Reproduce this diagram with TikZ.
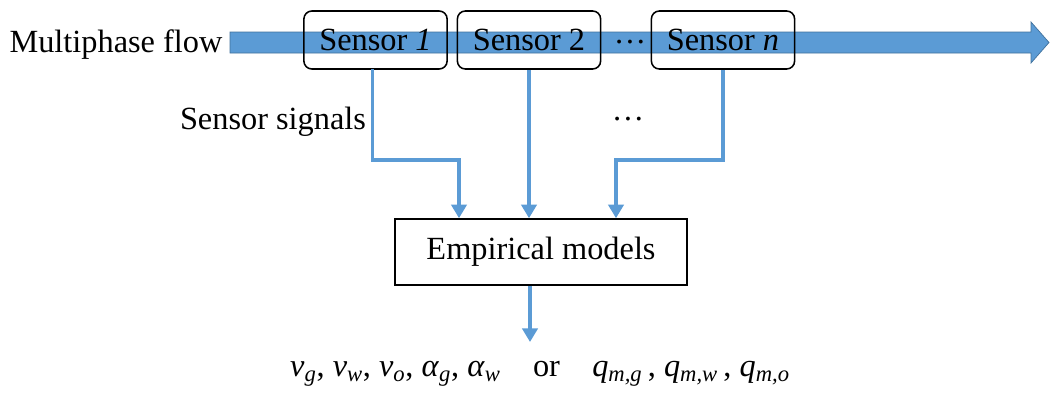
\documentclass[tikz,border=0pt]{standalone}
\usepackage{fontspec}
\setmainfont{Liberation Serif}
\usetikzlibrary{arrows.meta,positioning,calc}
\definecolor{FlowBlue}{RGB}{91,155,213}
\definecolor{FlowEdge}{RGB}{65,113,156}

\begin{document}
\begin{tikzpicture}[x=0.025cm, y=-0.025cm,
  every node/.style={font=\fontsize{23}{27}\selectfont, inner sep=0pt},
  sensorbox/.style={draw, line width=1.1pt, rounded corners=0.2cm, minimum width=3.58cm, minimum height=1.45cm},
  modelbox/.style={draw, line width=1.1pt, minimum width=7.3cm, minimum height=1.65cm},
  sig/.style={draw=FlowBlue, line width=2.6pt, -{Triangle[width=0.38cm,length=0.34cm]}}]
\useasboundingbox (0,0) rectangle (1050,397);
% flow arrow
\fill[FlowBlue, draw=FlowEdge, line width=0.5pt] (230,32) -- (1031,32) -- (1031,22) -- (1049,42.5) -- (1031,63) -- (1031,53) -- (230,53) -- cycle;
\node (flow) at (116,45) {Multiphase flow};
% sensors
\node[sensorbox] (s1) at (375.5,40) {Sensor \textit{1}};
\node[sensorbox] (s2) at (529,40) {Sensor 2};
\node[sensorbox] (sn) at (723,40) {Sensor \textit{n}};
\node (dots) at (630,42) {…};
\node (sdots) at (628,119) {…};
\node (lab) at (273,122) {Sensor signals};
% model
\node[modelbox] (em) at (541,252) {Empirical models};
\coordinate (k0) at (372,69);
\coordinate (k1) at (459,160);
\coordinate (kn) at (616,160);
\coordinate (out) at (530,342);
\draw[sig] (k0 -| s1.south) ++(-3,0) |- (k1) -- (k1 |- em.north);
\draw[sig] (s2.south) -- (s2.south |- em.north);
\draw[sig] (sn.south) |- (kn) -- (kn |- em.north);
\draw[sig] (out |- em.south) -- (out);
\node (res) at (540,374) {\textit{v}\textsubscript{\textit{g}}, \textit{v}\textsubscript{\textit{w}}, \textit{v}\textsubscript{\textit{o}}, \textit{α}\textsubscript{\textit{g}}, \textit{α}\textsubscript{\textit{w}}\quad or\quad \textit{q}\textsubscript{\textit{m,g}}\,, \textit{q}\textsubscript{\textit{m,w}}\,, \textit{q}\textsubscript{\textit{m,o}}};
\end{tikzpicture}
\end{document}
